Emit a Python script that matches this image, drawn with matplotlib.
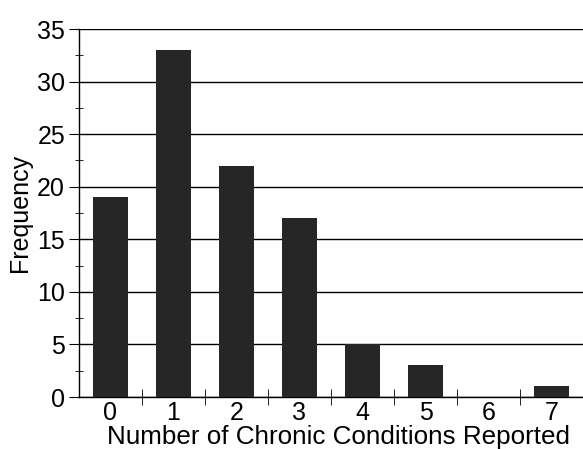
import matplotlib
matplotlib.use('Agg')
import matplotlib.pyplot as plt
from matplotlib.ticker import MultipleLocator

# ---- data ----
conditions = [0, 1, 2, 3, 4, 5, 6, 7]
frequency = [19, 33, 22, 17, 5, 3, 0, 1]

plt.rcParams['font.family'] = ['Liberation Sans', 'DejaVu Sans']

fig = plt.figure(figsize=(5.83, 4.49), dpi=100)
ax = fig.add_axes([0.1355, 0.1158, 0.8645, 0.8196])

ax.bar(conditions, frequency, width=0.54, color='#262626', zorder=3)

ax.set_xlim(-0.5, 7.5)
ax.set_ylim(0, 35)
ax.yaxis.set_major_locator(MultipleLocator(5))
ax.yaxis.set_minor_locator(MultipleLocator(2.5))
ax.set_xticks(conditions)
ax.set_xticks([c + 0.5 for c in conditions[:-1]], minor=True)

ax.grid(axis='y', which='major', color='black', linewidth=1.0, zorder=0)
for s in ['top', 'right']:
    ax.spines[s].set_visible(False)
ax.spines['left'].set_linewidth(1.0)
ax.spines['bottom'].set_linewidth(1.0)

ax.tick_params(axis='y', which='major', direction='out', length=7, labelsize=18, pad=3)
ax.tick_params(axis='y', which='minor', direction='inout', length=6)
ax.tick_params(axis='x', which='major', length=0, labelsize=18, pad=3)
ax.tick_params(axis='x', which='minor', direction='inout', length=11)

ax.set_xlabel('Number of Chronic Conditions Reported', fontsize=18.7, labelpad=0, x=0.514)
ax.set_ylabel('Frequency', fontsize=18, labelpad=4)

fig.savefig('out.png', dpi=100)
